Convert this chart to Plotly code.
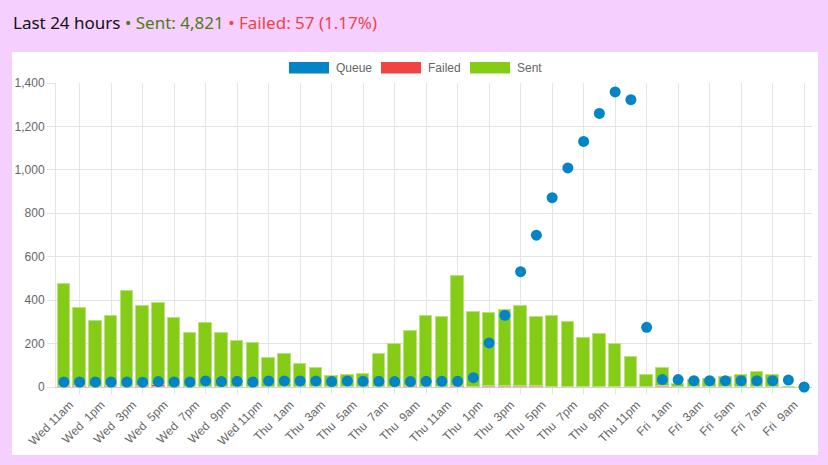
import plotly.graph_objects as go

# hourly slots, Wed 11am -> Fri 10am
hours = list(range(48))
tick_labels = ['Wed 11am', 'Wed  1pm', 'Wed  3pm', 'Wed  5pm', 'Wed  7pm', 'Wed  9pm',
               'Wed 11pm', 'Thu  1am', 'Thu  3am', 'Thu  5am', 'Thu  7am', 'Thu  9am',
               'Thu 11am', 'Thu  1pm', 'Thu  3pm', 'Thu  5pm', 'Thu  7pm', 'Thu  9pm',
               'Thu 11pm', 'Fri  1am', 'Fri  3am', 'Fri  5am', 'Fri  7am', 'Fri  9am']

queue = [23, 23, 23, 23, 23, 22, 25, 23, 23, 28, 25, 26,
         23, 28, 28, 28, 28, 25, 28, 26, 26, 25, 25, 26,
         26, 26, 43, 203, 330, 531, 699, 872, 1009, 1131, 1260, 1359,
         1323, 275, 34, 34, 29, 29, 29, 29, 29, 29, 32, 0]
failed = [3, 6, 0, 3, 0, 6, 7, 2, 0, 0, 0, 0,
          0, 0, 0, 0, 0, 0, 0, 0, 0, 0, 5, 0,
          0, 6, 0, 4, 5, 4, 3, 0, 0, 0, 0, 0,
          0, 0, 3, 0, 0, 0, 0, 0, 0, 0, 0, 0]
sent = [472, 359, 304, 323, 442, 369, 380, 316, 249, 295, 247, 210,
        203, 135, 153, 106, 88, 51, 55, 60, 153, 197, 253, 327,
        321, 505, 345, 338, 350, 369, 318, 327, 299, 226, 243, 197,
        138, 54, 85, 14, 32, 38, 45, 54, 68, 54, 0, 0]

blue = '#0284c7'
red = '#ef4444'
green = '#84cc16'
grid = '#e4e4e4'

W, H = 828, 465
L, R, T, B = 56, 16, 83, 78
pw, ph = W - L - R, H - T - B


def px(x):
    return (x - L) / pw


def py(y):
    return (H - B - y) / ph


fig = go.Figure()
fig.add_trace(go.Bar(x=hours, y=failed, name='Failed', width=0.78,
                     marker=dict(color=red, line=dict(color='#f7a0a0', width=1))))
fig.add_trace(go.Bar(x=hours, y=sent, name='Sent', width=0.78,
                     marker=dict(color=green, line=dict(color='#b9e37a', width=1))))
fig.add_trace(go.Scatter(x=hours, y=queue, name='Queue', mode='markers', cliponaxis=False,
                         marker=dict(color=blue, size=11)))

shapes = [dict(type='rect', xref='paper', yref='paper', x0=px(12), x1=px(818),
               y0=py(455), y1=py(52), fillcolor='white', line=dict(width=0), layer='below')]
annotations = []
# legend drawn like the original wide colour boxes
for name, col, x0, tx in [('Queue', blue, 289, 335), ('Failed', red, 381, 427), ('Sent', green, 470, 516)]:
    shapes.append(dict(type='rect', xref='paper', yref='paper', x0=px(x0), x1=px(x0 + 40),
                       y0=py(73.5), y1=py(62), fillcolor=col, line=dict(width=0)))
    annotations.append(dict(xref='paper', yref='paper', x=px(tx - 1), y=py(67.5), text=name,
                            showarrow=False, xanchor='left', yanchor='middle',
                            font=dict(size=12, color='#666', family='Liberation Sans')))

annotations.append(dict(
    xref='paper', yref='paper', x=px(11), y=py(22), xanchor='left', yanchor='middle', showarrow=False,
    text='Last 24 hours <span style="color:#4d7c0f">• Sent: 4,821</span>'
         ' <span style="color:#ef4444">• Failed: 57 (1.17%)</span>',
    font=dict(size=17, color='#111', family='Noto Sans')))

fig.update_layout(
    width=W, height=H, margin=dict(l=L, r=R, t=T, b=B),
    paper_bgcolor='#f5d0fe', plot_bgcolor='white',
    barmode='stack', showlegend=False, bargap=0,
    shapes=shapes, annotations=annotations,
    font=dict(family='Liberation Sans', size=12, color='#666'),
)
fig.update_xaxes(range=[-0.5, 47.5], tickmode='array', tickvals=hours[::2],
                 ticktext=[t.replace('  ', '\u00a0 ') for t in tick_labels],
                 tickangle=-45, showgrid=False, ticks='', zeroline=False,
                 ticklabelshift=6, ticklabelstandoff=5,
                 showline=True, linecolor='#cfcfcf', layer='below traces',
                 minor=dict(tick0=1, dtick=2, showgrid=True, gridcolor=grid,
                            ticks='outside', ticklen=6, tickcolor=grid))
fig.update_yaxes(range=[0, 1400], dtick=200, tickformat=',', gridcolor=grid,
                 ticks='outside', ticklen=8, tickcolor=grid, zeroline=False,
                 showline=True, linecolor=grid, layer='below traces')

fig.write_html("out.html", config={'displayModeBar': False},
               post_script="document.body.style.margin='0';")
